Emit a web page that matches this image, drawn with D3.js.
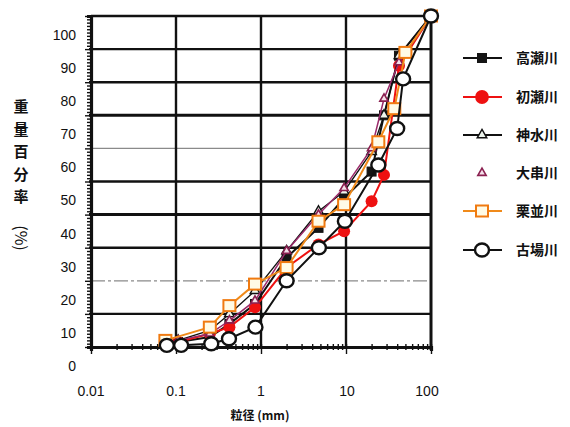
<!DOCTYPE html>
<html><head><meta charset="utf-8">
<script src="https://cdn.jsdelivr.net/npm/d3@7"></script>
<style>
html,body{margin:0;padding:0;background:#fff;}
svg{display:block;}
text{font-family:"Liberation Sans",Arial,sans-serif;fill:#111;}
.jp{font-family:"Noto Sans CJK JP","Noto Sans CJK SC",sans-serif;font-weight:700;}
</style></head>
<body>
<svg id="c" width="570" height="427"></svg>
<script>
// ---- data ----
const xTicks = [0.01, 0.1, 1, 10, 100];
const xTickLabels = ["0.01", "0.1", "1", "10", "100"];
const yTicks = [0, 10, 20, 30, 40, 50, 60, 70, 80, 90, 100];
const seriesNames = ["高瀬川", "初瀬川", "神水川", "大串川", "栗並川", "古場川"];
const yTitleChars = ["重", "量", "百", "分", "率"];
const yTitleUnit = "(%)";

const sizesStd = [0.075, 0.106, 0.25, 0.425, 0.85, 2, 4.75, 9.5, 20, 28, 42, 100];
const pctTakase = [1, 1.5, 3, 7, 13, 27, 36, 45, 53, 70, 88, 100];
const pctHatsuse = [1, 1.5, 4, 6, 12, 24, 31, 35, 44, 52, 85, 100];
const pctKamimizu = [1, 2, 5, 10, 17, 29, 41, 47, 59, 70, 88, 100];
const pctOgushi = [1, 2, 4, 8, 14, 29, 40, 48, 60, 75, 86, 100];

const sizesKuri = [0.075, 0.25, 0.425, 0.85, 2, 4.75, 9.5, 24, 37, 50, 100];
const pctKuri = [2, 6, 12.5, 19, 24, 38, 43, 62, 72, 89, 100];

const sizesKoba = [0.078, 0.115, 0.26, 0.42, 0.86, 2.0, 4.8, 9.7, 24, 40, 47, 100];
const pctKoba = [0.5, 0.5, 1, 2.5, 6, 20, 30, 38, 55, 66, 81, 100];

// ---- chart ----
const svg = d3.select("#c");
const x = d3.scaleLog().domain([0.01, 100]).range([91, 431]);
const y = d3.scaleLinear().domain([0, 100]).range([347, 16]);

const grid = svg.append("g");
// horizontal grid
[10, 30, 40, 50, 70, 80, 90].forEach(v => {
  grid.append("line").attr("x1", x(0.01) - 2).attr("x2", x(100)).attr("y1", y(v)).attr("y2", y(v))
    .attr("stroke", "#111").attr("stroke-width", v === 70 || v === 40 ? 3 : 2.4);
});
grid.append("line").attr("x1", x(0.01)).attr("x2", x(100)).attr("y1", y(60)).attr("y2", y(60))
  .attr("stroke", "#8a8a8a").attr("stroke-width", 1.2);
grid.append("line").attr("x1", x(0.01)).attr("x2", x(100)).attr("y1", y(20)).attr("y2", y(20))
  .attr("stroke", "#8a8a8a").attr("stroke-width", 1.2).attr("stroke-dasharray", "14,3,3,3");
// top border
grid.append("line").attr("x1", x(0.01)).attr("x2", x(100) + 1).attr("y1", y(100)).attr("y2", y(100))
  .attr("stroke", "#111").attr("stroke-width", 2.4);
// vertical grid
[0.1, 1, 10].forEach(v => {
  grid.append("line").attr("x1", x(v)).attr("x2", x(v)).attr("y1", y(100)).attr("y2", y(0))
    .attr("stroke", "#111").attr("stroke-width", 2.4);
});
grid.append("line").attr("x1", x(100)).attr("x2", x(100)).attr("y1", y(100) - 1).attr("y2", y(0) + 3)
  .attr("stroke", "#111").attr("stroke-width", 3);

// left axis with dense minor ticks
const yAxis = d3.axisLeft(y).tickValues(d3.range(0, 101, 1)).tickSize(4).tickFormat("");
const ga = svg.append("g").attr("transform", `translate(${x(0.01)},0)`).call(yAxis);
ga.select(".domain").attr("stroke", "#111").attr("stroke-width", 3.2);
ga.selectAll(".tick line").attr("stroke", "#111").attr("stroke-width", 1.4)
  .attr("x2", d => d % 10 === 0 ? -6 : -4);

// bottom axis with log minor ticks
const minor = [];
for (let e = -2; e < 2; e++) for (let m = 1; m < 10; m++) minor.push(m * Math.pow(10, e));
minor.push(100);
const xAxis = d3.axisBottom(x).tickValues(minor).tickSize(4).tickFormat("");
const gb = svg.append("g").attr("transform", `translate(0,${y(0)})`).call(xAxis);
gb.select(".domain").attr("stroke", "#111").attr("stroke-width", 3.2);
gb.selectAll(".tick line").attr("stroke", "#111").attr("stroke-width", 1.4)
  .attr("y1", -3).attr("y2", d => xTicks.includes(d) ? 7 : 3);

// tick labels
svg.append("g").selectAll("text").data(yTicks).join("text")
  .attr("x", 76).attr("y", d => y(d) + 19).attr("dy", "0.35em")
  .attr("text-anchor", "end").attr("font-size", 14).text(d => d);
svg.append("g").selectAll("text").data(xTicks).join("text")
  .attr("x", d => x(d) - (d === 100 ? 4 : (d === 10 ? -1 : 0))).attr("y", 391).attr("dy", "0.35em")
  .attr("text-anchor", "middle").attr("font-size", 14).text((d, i) => xTickLabels[i]);

// axis titles
svg.append("text").attr("class", "jp").attr("x", 260).attr("y", 416).attr("dy", "0.35em")
  .attr("text-anchor", "middle").attr("font-size", 12).text("粒径 (mm)");
svg.append("g").selectAll("text").data(yTitleChars).join("text").attr("class", "jp")
  .attr("x", 21).attr("y", (d, i) => 107 + i * 22.5).attr("dy", "0.36em")
  .attr("text-anchor", "middle").attr("font-size", 15).text(d => d);
svg.append("text").attr("class", "jp")
  .attr("transform", "translate(21,238) rotate(90)")
  .attr("text-anchor", "middle").attr("dy", "0.36em")
  .attr("font-size", 16).style("font-weight", 400).text(yTitleUnit);

// series
const line = d3.line().x(d => x(d[0])).y(d => y(d[1]));
const zip = (a, b) => a.map((v, i) => [v, b[i]]);
const series = [
  {name: seriesNames[0], pts: zip(sizesStd, pctTakase), color: "#111", lw: 2, sym: "sqf"},
  {name: seriesNames[1], pts: zip(sizesStd, pctHatsuse), color: "#ee1111", lw: 2, sym: "cirf"},
  {name: seriesNames[2], pts: zip(sizesStd, pctKamimizu), color: "#111", lw: 1.3, sym: "tri"},
  {name: seriesNames[3], pts: zip(sizesStd, pctOgushi), color: "#9a2a6a", lw: 1.5, sym: "trip"},
  {name: seriesNames[4], pts: zip(sizesKuri, pctKuri), color: "#f08a1a", lw: 2, sym: "sqo"},
  {name: seriesNames[5], pts: zip(sizesKoba, pctKoba), color: "#111", lw: 2, sym: "ciro"}
];

function drawSym(g, sym, cx, cy, s) {
  s = s || 1;
  if (sym === "sqf") {
    g.append("rect").attr("x", cx - 4.5 * s).attr("y", cy - 4.5 * s).attr("width", 9 * s).attr("height", 9 * s)
      .attr("fill", "#151515").attr("stroke", "#151515");
  } else if (sym === "cirf") {
    g.append("circle").attr("cx", cx).attr("cy", cy).attr("r", 6 * s).attr("fill", "#ee1111");
  } else if (sym === "tri") {
    g.append("path").attr("d", d3.symbol(d3.symbolTriangle, 40 * s * s)()).attr("transform", `translate(${cx},${cy})`)
      .attr("fill", "#eef6ee").attr("stroke", "#111").attr("stroke-width", 1.4);
  } else if (sym === "trip") {
    g.append("path").attr("d", d3.symbol(d3.symbolTriangle, 30 * s * s)()).attr("transform", `translate(${cx},${cy})`)
      .attr("fill", "#f4e0ea").attr("stroke", "#8a2050").attr("stroke-width", 1.6);
  } else if (sym === "sqo") {
    g.append("rect").attr("x", cx - 6 * s).attr("y", cy - 5.5 * s).attr("width", 12 * s).attr("height", 11 * s)
      .attr("fill", "#fffbe6").attr("stroke", "#f07a10").attr("stroke-width", 2);
  } else if (sym === "ciro") {
    g.append("ellipse").attr("cx", cx).attr("cy", cy).attr("rx", 7 * s).attr("ry", 6.5 * s)
      .attr("fill", "#fff").attr("stroke", "#111").attr("stroke-width", 2.4);
  }
}

const gs = svg.append("g");
series.forEach(s => {
  const g = gs.append("g");
  g.append("path").datum(s.pts).attr("d", line).attr("fill", "none")
    .attr("stroke", s.color).attr("stroke-width", s.lw);
  s.pts.forEach(p => drawSym(g, s.sym, x(p[0]), y(p[1])));
});

// legend
const legRows = [58, 97, 135, 173, 211, 250];
const lg = svg.append("g");
series.forEach((s, i) => {
  const yy = legRows[i];
  if (s.sym !== "trip") {
    lg.append("line").attr("x1", 463).attr("x2", 502).attr("y1", yy).attr("y2", yy)
      .attr("stroke", s.color).attr("stroke-width", 2);
  }
  drawSym(lg, s.sym, 482, yy, s.sym === "cirf" ? 1.15 : 1);
  lg.append("text").attr("class", "jp").attr("x", 516).attr("y", yy).attr("dy", "0.36em")
    .attr("font-size", 14).text(s.name);
});
</script>
</body></html>
